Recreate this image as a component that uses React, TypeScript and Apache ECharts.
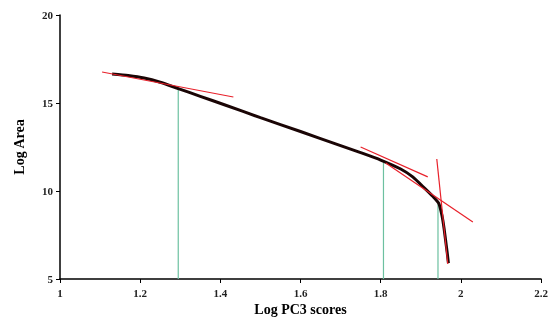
import React, { useEffect, useRef } from "react";
import * as echarts from "echarts";

const curveX = [1.13, 1.17, 1.21, 1.25, 1.295, 1.35, 1.41, 1.5, 1.6, 1.7, 1.75, 1.8, 1.85, 1.88, 1.91, 1.93, 1.945, 1.953, 1.958, 1.962, 1.966, 1.969];
const curveY = [16.65, 16.56, 16.42, 16.18, 15.82, 15.38, 14.9, 14.17, 13.38, 12.58, 12.18, 11.76, 11.25, 10.8, 10.15, 9.7, 9.3, 8.6, 7.9, 7.2, 6.5, 5.9];

const tangentA = [[1.105, 16.76], [1.4325, 15.34]];
const tangentB = [[1.75, 12.5], [1.9175, 10.8]];
const tangentC = [[1.8125, 11.59], [2.03, 8.24]];
const tangentD = [[1.94, 11.82], [1.9675, 5.85]];

const breakX = [1.295, 1.807, 1.943];
const breakY = [15.8, 11.6, 9.4];

export default function App() {
  const ref = useRef<HTMLDivElement>(null);
  useEffect(() => {
    if (!ref.current) return;
    const chart = echarts.init(ref.current, undefined, { renderer: "svg" });
    const font = "'Liberation Serif', 'Times New Roman', serif";
    const red = "#e8202a";
    const green = "#6cc0a0";
    const series: any[] = [];
    breakX.forEach((x, i) => {
      series.push({
        type: "line",
        data: [[x, 5], [x, breakY[i]]],
        symbol: "none",
        lineStyle: { color: green, width: 1.2 },
        z: 1,
      });
    });
    series.push({
      type: "line",
      data: curveX.map((x, i) => [x, curveY[i]]),
      symbol: "none",
      smooth: 0.2,
      lineStyle: { color: "#1a0505", width: 3 },
      z: 2,
    });
    [tangentA, tangentB, tangentC, tangentD].forEach((t) => {
      series.push({
        type: "line",
        data: t,
        symbol: "none",
        lineStyle: { color: red, width: 1.2 },
        z: 3,
      });
    });
    chart.setOption({
      animation: false,
      grid: { left: 60, right: 10, top: 15, bottom: 46 },
      xAxis: {
        type: "value",
        min: 1,
        max: 2.2,
        interval: 0.2,
        name: "Log PC3 scores",
        nameLocation: "middle",
        nameGap: 23,
        nameTextStyle: { fontFamily: font, fontWeight: "bold", fontSize: 14, color: "#000" },
        axisLine: { lineStyle: { color: "#000", width: 1.5 } },
        axisTick: { length: 4, lineStyle: { color: "#000" } },
        axisLabel: {
          fontFamily: font,
          fontSize: 11,
          fontWeight: "bold",
          color: "#222",
          margin: 8,
          formatter: (v: number) => String(Math.round(v * 10) / 10),
        },
        splitLine: { show: false },
      },
      yAxis: {
        type: "value",
        min: 5,
        max: 20,
        interval: 5,
        name: "Log Area",
        nameLocation: "middle",
        nameGap: 34,
        nameTextStyle: { fontFamily: font, fontWeight: "bold", fontSize: 14, color: "#000" },
        axisLine: { show: true, lineStyle: { color: "#000", width: 1.5 } },
        axisTick: { show: true, length: 4, lineStyle: { color: "#000" } },
        axisLabel: { fontFamily: font, fontSize: 11, fontWeight: "bold", color: "#222", margin: 7 },
        splitLine: { show: false },
      },
      series,
    });
    return () => chart.dispose();
  }, []);
  return <div ref={ref} style={{ position: "fixed", left: 0, top: 0, width: 551, height: 325 }} />;
}
